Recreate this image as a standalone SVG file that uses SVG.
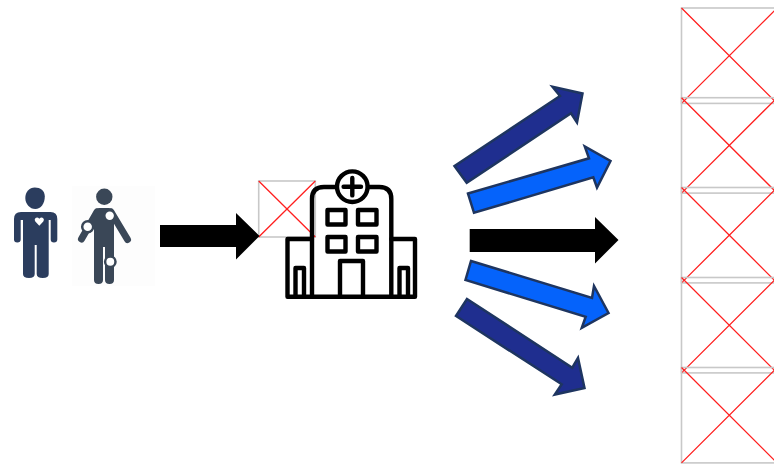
<svg xmlns="http://www.w3.org/2000/svg" width="774" height="464" viewBox="0 0 774 464">
<defs>
<style>
.ph-box{fill:none;stroke:#c8c8c8;stroke-width:1.6}
.ph-x{stroke:#ff1f1f;stroke-width:1.3;fill:none}
.dark{fill:#1f2e8f;stroke:#1e3560;stroke-width:2.500}
.blue{fill:#0563fb;stroke:#1e3560;stroke-width:2.500}
.black{fill:#000}
.hos{fill:none;stroke:#000;stroke-width:4.400;stroke-linejoin:round;stroke-linecap:round}
.p1{fill:#2b3d5e}
.p2{fill:#3a4757}
.p2l{fill:none;stroke:#3a4757;stroke-linecap:round}
.ring{fill:#fff;stroke:#3a4757;stroke-width:2.500}
</style>
</defs>
<rect width="774" height="464" fill="#fff"/>
<g id="patient-1">
<path class="p1" d="M25.300 198c0-6 4-10.500 9.500-10.500s10 3 10 9c0 7-4 12.500-9.500 12.500S25.300 204 25.300 198z"/>
<path class="p1" d="M21 212H50.500Q57.300 212 57.300 219V239.500Q57.300 242.500 54 242.500Q50.700 242.500 50.700 239.500V220H48.700V274Q48.700 278 42.700 278Q36.700 278 36.700 274V245H34.700V274Q34.700 278 29 278Q23 278 23 274V220H20.700V239.500Q20.700 242.500 17.300 242.500Q14 242.500 14 239.500V219Q14 212 21 212Z"/>
<path fill="#fff" d="M39.300 225.700l-4-4.200q-1.400-2 .2-3.500 2-1.300 3.800.7 1.800-2 3.800-.7 1.600 1.500.2 3.500z"/>
</g>
<g id="patient-2">
<rect x="72" y="186" width="83" height="100" fill="#fdfdfd"/>
<circle class="p2" cx="104.300" cy="196.700" r="8.200"/>
<path class="p2l" stroke-width="7" d="M97 212L81.500 239M111 212L127.500 239.500"/>
<path class="p2" d="M99 208h10q5 0 5 6v66q0 4-4.500 4t-4.500-4v-33h-2v33q0 4-4.500 4t-4.500-4v-66q0-6 5-6z"/>
<circle cx="109.700" cy="215.700" r="4.200" fill="#fff"/>
<circle class="ring" cx="87.700" cy="226.700" r="5.500"/>
<circle class="ring" cx="110.300" cy="261.700" r="5.200"/>
</g>
<g id="placeholder-center">
<rect class="ph-box" x="258.700" y="181" width="56.600" height="56"/>
<path class="ph-x" d="M258.700 181L315.300 237M315.300 181L258.700 237"/>
</g>
<g id="hospital">
<path class="hos" d="M312 296.700V199q0-12 12-12h55.300q12 0 12 12v97.700"/>
<circle cx="352.300" cy="186.700" r="15.300" fill="#fff" stroke="#000" stroke-width="4.400"/>
<path class="hos" d="M352.300 178v17.400M343.600 186.700h17.400"/>
<rect class="hos" x="327.500" y="210" width="18" height="14.500"/>
<rect class="hos" x="358" y="210" width="18.500" height="14.500"/>
<rect class="hos" x="327.500" y="237" width="18" height="14.500"/>
<rect class="hos" x="358" y="237" width="18.500" height="14.500"/>
<path class="hos" d="M340 296.700V261h23v35.700"/>
<path class="hos" d="M312 239h-24.500v57.700h127.500V239h-23.600"/>
<path class="hos" d="M295.500 296.700V268h8.500v28.700M399.500 296.700V268h8.500v28.700"/>
</g>
<g id="placeholder-1"><rect class="ph-box" x="681.500" y="8" width="95.600" height="95.400"/><path class="ph-x" d="M681.500 8L777.100 103.400M777.100 8L681.500 103.400"/></g>
<g id="placeholder-2"><rect class="ph-box" x="681.500" y="97.700" width="95.600" height="95.400"/><path class="ph-x" d="M681.500 97.700L777.100 193.100M777.100 97.700L681.500 193.100"/></g>
<g id="placeholder-3"><rect class="ph-box" x="681.500" y="187.500" width="95.600" height="95.400"/><path class="ph-x" d="M681.500 187.500L777.100 282.900M777.100 187.500L681.500 282.900"/></g>
<g id="placeholder-4"><rect class="ph-box" x="681.500" y="277.500" width="95.600" height="95.400"/><path class="ph-x" d="M681.500 277.500L777.100 372.900M777.100 277.500L681.500 372.900"/></g>
<g id="placeholder-5"><rect class="ph-box" x="681.500" y="367.500" width="95.600" height="95.400"/><path class="ph-x" d="M681.500 367.500L777.100 462.900M777.100 367.500L681.500 462.900"/></g>
<g id="connectors">
<polygon class="black" points="160,225 236,225 236,213 259.500,236 236,259.500 236,247 160,247"/>
<polygon class="black" points="469.700,229 595,229 595,217 618.500,240 595,263.500 595,252 469.700,252"/>
<polygon class="dark" points="454.500,166 560,96 552.500,86.800 582.500,93.500 577,122.500 571,113.300 466.700,182.800"/>
<polygon class="blue" points="468,193.500 589,158.300 584.800,146.500 610.500,161 597,187.500 593.300,177.300 474,212.800"/>
<polygon class="blue" points="471,261 592,298 594,286 608.500,313 581.800,327.800 585.700,316.700 465.500,280"/>
<polygon class="dark" points="467,299 572.300,367.700 578,358 584.500,388 554.800,394.500 561.700,384.300 456,316"/>
</g>
</svg>
